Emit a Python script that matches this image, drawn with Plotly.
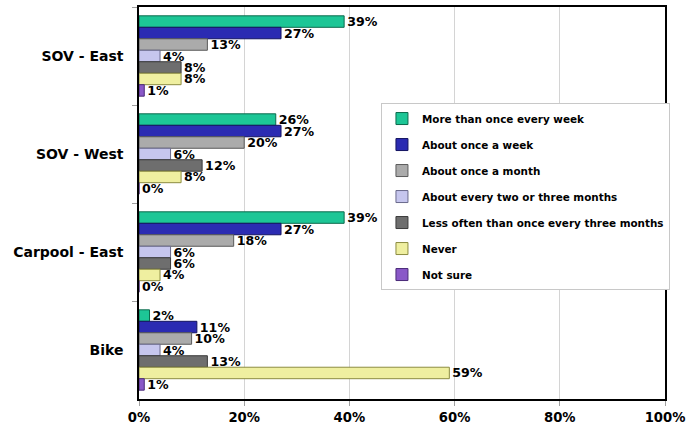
import plotly.graph_objects as go

# Survey: how often each mode is used
categories = ["SOV - East", "SOV - West", "Carpool - East", "Bike"]

series_names = [
    "More than once every week",
    "About once a week",
    "About once a month",
    "About every two or three months",
    "Less often than once every three months",
    "Never",
    "Not sure",
]

more_than_weekly = [39, 26, 39, 2]
about_weekly = [27, 27, 27, 11]
about_monthly = [13, 20, 18, 10]
every_two_three_months = [4, 6, 6, 4]
less_than_three_months = [8, 12, 6, 13]
never = [8, 8, 4, 59]
not_sure = [1, 0, 0, 1]

series_values = [
    more_than_weekly,
    about_weekly,
    about_monthly,
    every_two_three_months,
    less_than_three_months,
    never,
    not_sure,
]

fill_colors = ["#1DC696", "#2B2BB2", "#ABABAB", "#C6C6EE", "#6E6E6E", "#EFEFA0", "#8A58C8"]
edge_colors = ["#0B6A4C", "#141460", "#5A5A5A", "#6A6A8C", "#3A3A3A", "#8C8C40", "#4A2A78"]

FONT = "DejaVu Sans"

fig = go.Figure()
for i, (name, vals) in enumerate(zip(series_names, series_values)):
    fig.add_trace(go.Bar(
        y=categories,
        x=vals,
        name=name,
        orientation="h",
        legendgroup=f"g{i}",
        marker=dict(color=fill_colors[i], line=dict(color=edge_colors[i], width=1)),
        text=[f"{v}%" for v in vals],
        textposition="outside",
        textfont=dict(family=FONT, size=12.6, color="#000000", weight="bold"),
        constraintext="none",
        cliponaxis=False,
        hoverinfo="skip",
    ))

fig.update_layout(
    width=690,
    height=433,
    margin=dict(l=139, r=23, t=5, b=34),
    paper_bgcolor="white",
    plot_bgcolor="white",
    barmode="group",
    bargap=0.18,
    bargroupgap=0,
    font=dict(family=FONT, color="#000000"),
    showlegend=True,
    legend=dict(
        x=0.46,
        y=0.755,
        xanchor="left",
        yanchor="top",
        bgcolor="white",
        bordercolor="#C8C8C8",
        borderwidth=1,
        tracegroupgap=7,
        itemwidth=30,
        font=dict(family=FONT, size=10.4, color="#000000", weight="bold"),
    ),
    xaxis=dict(
        range=[0, 100],
        dtick=20,
        ticksuffix="%",
        showgrid=True,
        gridcolor="#D4D4D4",
        gridwidth=1,
        zeroline=False,
        showline=True,
        linecolor="#000000",
        linewidth=1.5,
        mirror=True,
        ticks="outside",
        ticklen=5,
        tickcolor="#A0A0A0",
        tickfont=dict(family=FONT, size=13.2, color="#000000", weight="bold"),
        fixedrange=True,
    ),
    yaxis=dict(
        autorange="reversed",
        type="category",
        showgrid=False,
        showline=True,
        linecolor="#000000",
        linewidth=1.5,
        mirror=True,
        ticks="outside",
        tickson="boundaries",
        ticklen=5,
        tickcolor="#A0A0A0",
        tickfont=dict(family=FONT, size=14, color="#000000", weight="bold"),
        ticklabelstandoff=11,
        fixedrange=True,
    ),
)

fig.write_html("out.html")
